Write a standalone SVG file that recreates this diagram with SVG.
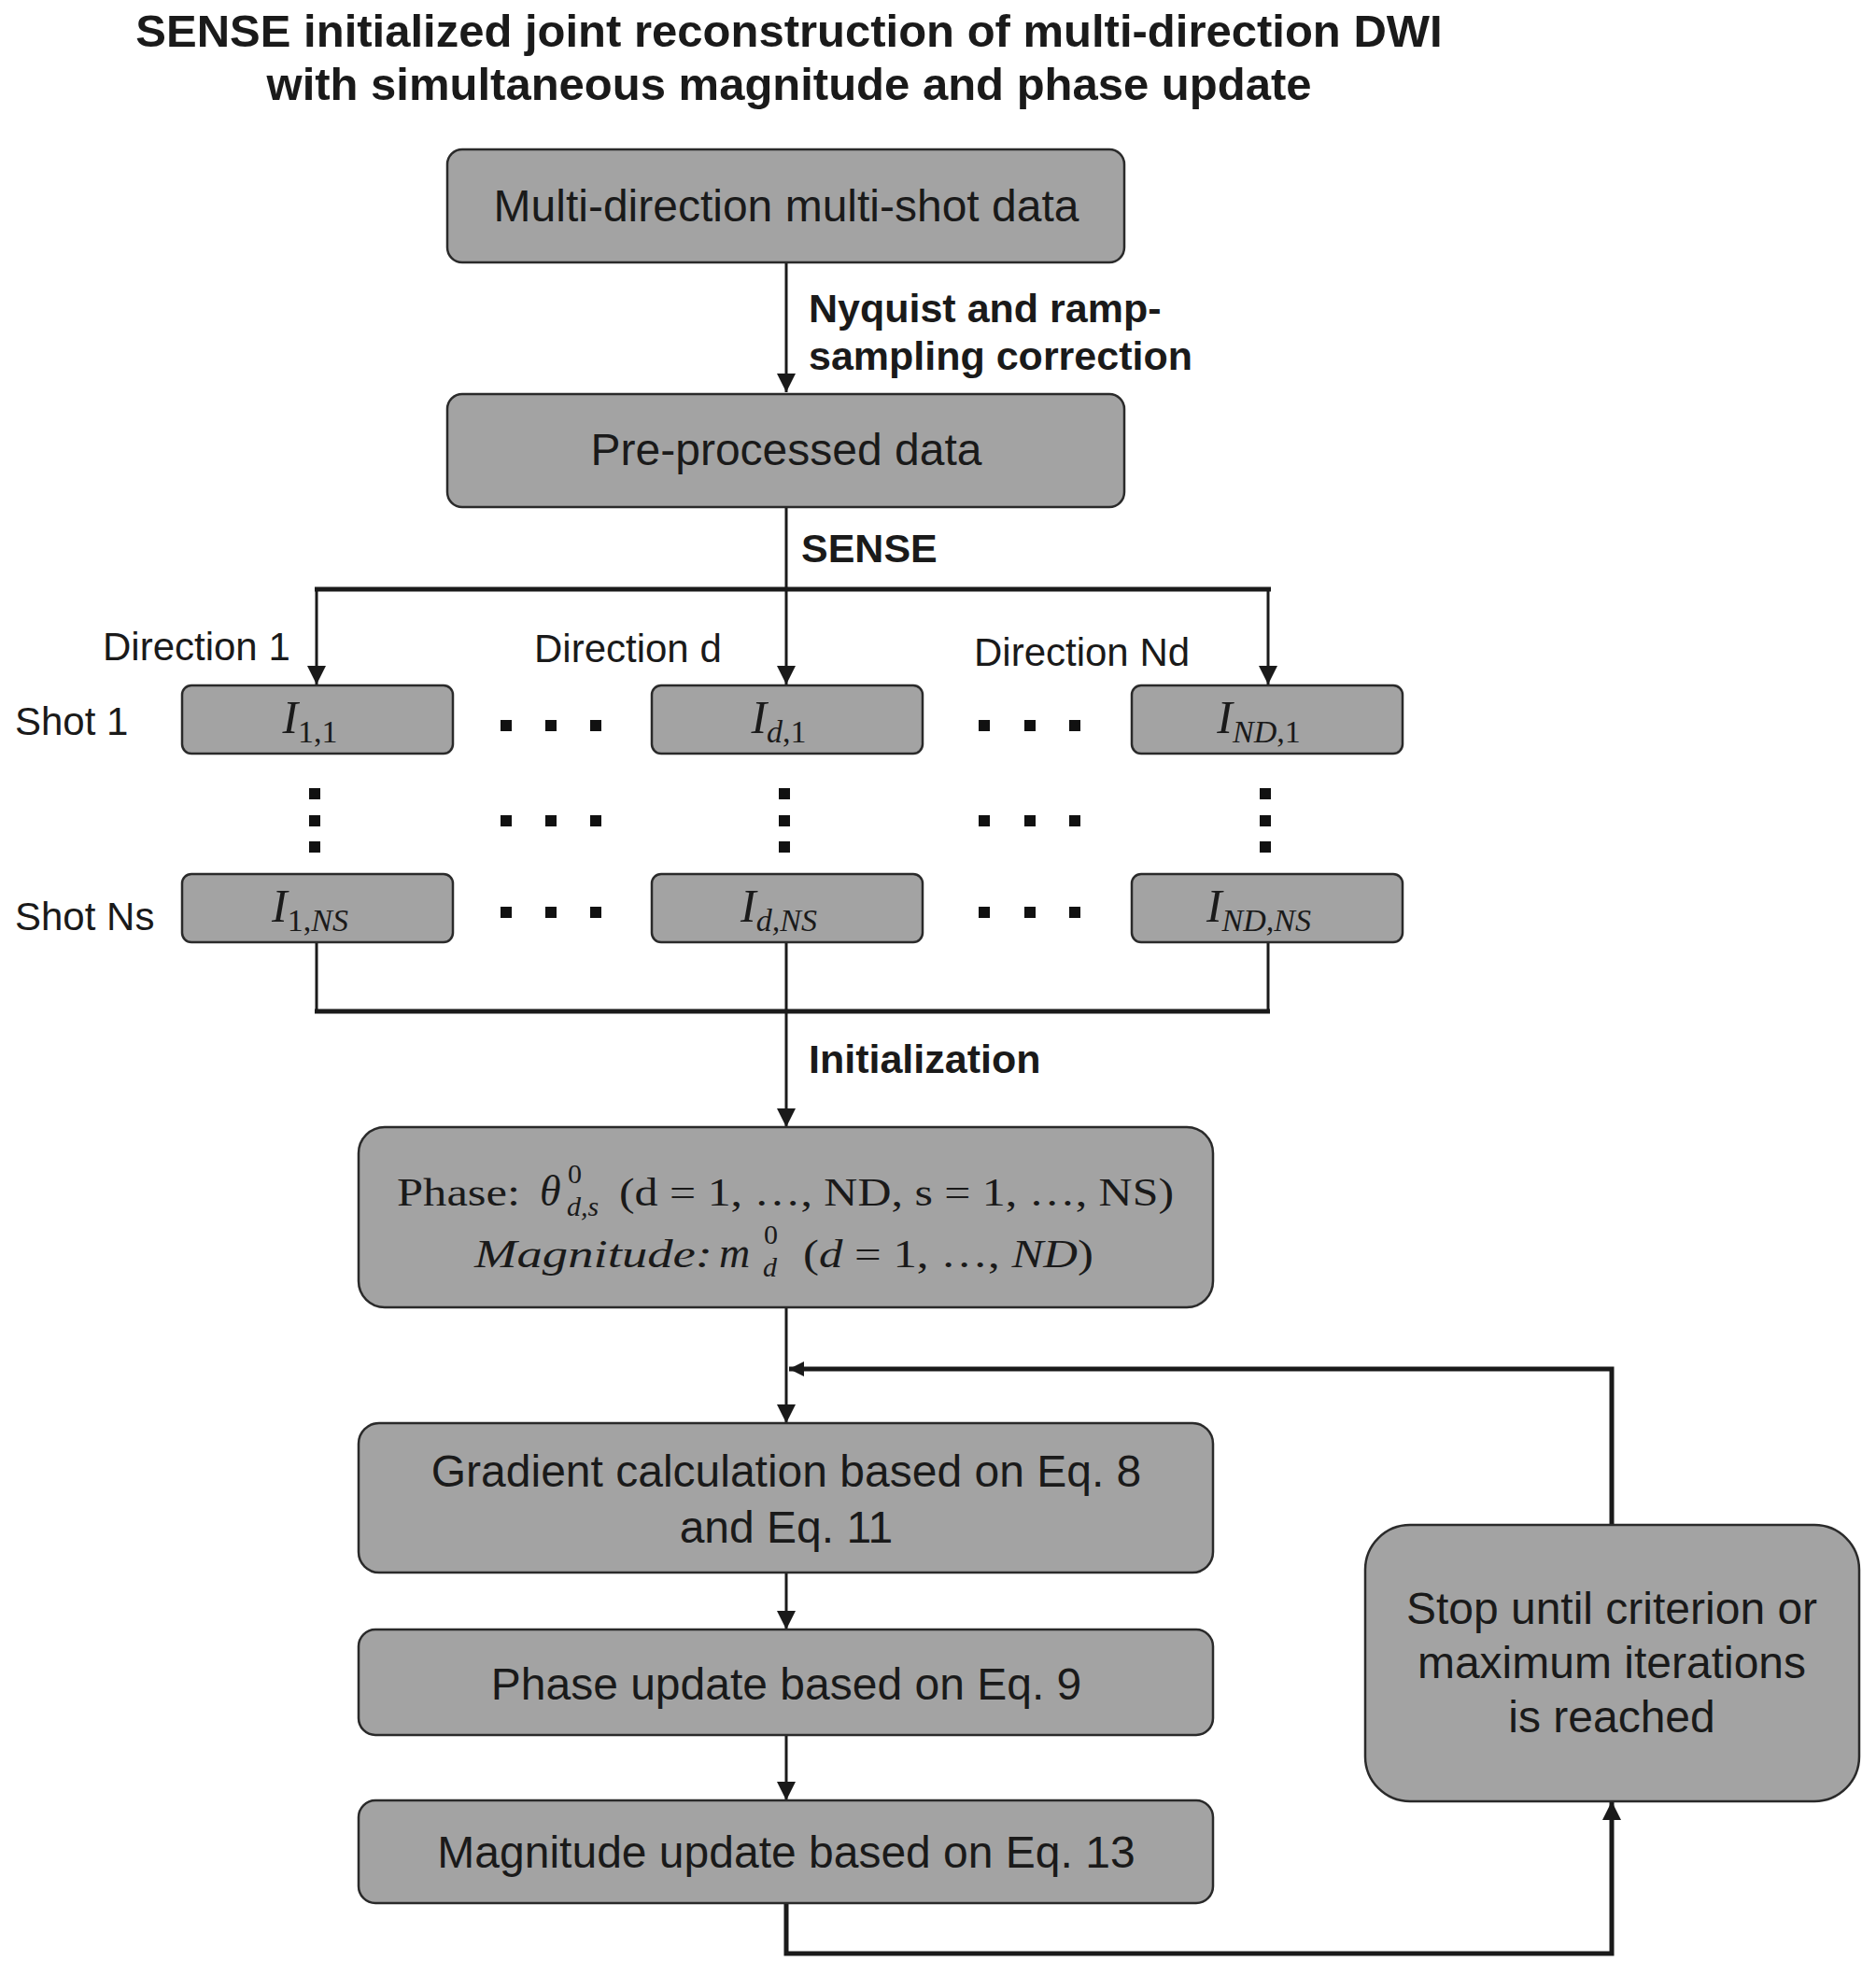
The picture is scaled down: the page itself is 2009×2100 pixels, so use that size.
<svg xmlns="http://www.w3.org/2000/svg" width="2009" height="2100" viewBox="0 0 2009 2100">
<defs>
<style>
.box{fill:#a3a3a3;stroke:#2a2a2a;stroke-width:2.5}
.t{font-family:"Liberation Sans",Arial,sans-serif;fill:#1a1a1a}
.bt{font-size:48px;text-anchor:middle}
.lb{font-size:43px;font-weight:bold}
.lr{font-size:42px}
.m{font-family:"Liberation Serif","Times New Roman",serif;fill:#1a1a1a}
.ln{fill:none;stroke:#1a1a1a;stroke-width:3}
.th{fill:none;stroke:#1a1a1a;stroke-width:5}
.dot{fill:#111}
</style>
<marker id="ah" viewBox="0 0 20 20" refX="20" refY="10" markerWidth="20" markerHeight="21" markerUnits="userSpaceOnUse" orient="auto">
<path d="M0,0 L20,10 L0,20 z" fill="#1a1a1a"/>
</marker>
<marker id="ahs" viewBox="0 0 20 20" refX="20" refY="10" markerWidth="17" markerHeight="16" markerUnits="userSpaceOnUse" orient="auto">
<path d="M0,0 L20,10 L0,20 z" fill="#1a1a1a"/>
</marker>
</defs>
<rect width="2009" height="2100" fill="#ffffff"/>

<g id="title" class="t" font-weight="bold" font-size="49" text-anchor="middle">
<text x="845" y="50">SENSE initialized joint reconstruction of multi-direction DWI</text>
<text x="845" y="107">with simultaneous magnitude and phase update</text>
</g>

<g id="connectors">
<path class="ln" d="M842,281 V420" marker-end="url(#ah)"/>
<path class="ln" d="M842,543 V733" marker-end="url(#ah)"/>
<path class="th" d="M337,631 H1361"/>
<path class="ln" d="M339,631 V733" marker-end="url(#ah)"/>
<path class="ln" d="M1358,631 V733" marker-end="url(#ah)"/>
<path class="ln" d="M339,1009 V1083"/>
<path class="ln" d="M1358,1009 V1083"/>
<path class="th" d="M337,1083 H1360"/>
<path class="ln" d="M842,1009 V1207" marker-end="url(#ah)"/>
<path class="ln" d="M842,1400 V1524" marker-end="url(#ah)"/>
<path class="th" d="M1726,1633 V1466 H845" marker-end="url(#ahs)"/>
<path class="ln" d="M842,1684 V1745" marker-end="url(#ah)"/>
<path class="ln" d="M842,1858 V1928" marker-end="url(#ah)"/>
<path class="th" d="M842,2037 V2092 H1726 V1929" marker-end="url(#ah)"/>
</g>

<g id="labels" class="t">
<text class="lb" x="866" y="345">Nyquist and ramp-</text>
<text class="lb" x="866" y="396">sampling correction</text>
<text class="lb" x="858" y="602">SENSE</text>
<text class="lb" x="866" y="1149">Initialization</text>
<text class="lr" x="110" y="707">Direction 1</text>
<text class="lr" x="572" y="709">Direction d</text>
<text class="lr" x="1043" y="713">Direction Nd</text>
<text class="lr" x="16" y="787">Shot 1</text>
<text class="lr" x="16" y="996">Shot Ns</text>
</g>

<g id="dots">
<rect class="dot" x="536" y="771" width="12" height="12"/>
<rect class="dot" x="584" y="771" width="12" height="12"/>
<rect class="dot" x="632" y="771" width="12" height="12"/>
<rect class="dot" x="1048" y="771" width="12" height="12"/>
<rect class="dot" x="1097" y="771" width="12" height="12"/>
<rect class="dot" x="1145" y="771" width="12" height="12"/>
<rect class="dot" x="536" y="873" width="12" height="12"/>
<rect class="dot" x="584" y="873" width="12" height="12"/>
<rect class="dot" x="632" y="873" width="12" height="12"/>
<rect class="dot" x="1048" y="873" width="12" height="12"/>
<rect class="dot" x="1097" y="873" width="12" height="12"/>
<rect class="dot" x="1145" y="873" width="12" height="12"/>
<rect class="dot" x="536" y="971" width="12" height="12"/>
<rect class="dot" x="584" y="971" width="12" height="12"/>
<rect class="dot" x="632" y="971" width="12" height="12"/>
<rect class="dot" x="1048" y="971" width="12" height="12"/>
<rect class="dot" x="1097" y="971" width="12" height="12"/>
<rect class="dot" x="1145" y="971" width="12" height="12"/>
<rect class="dot" x="331" y="844" width="12" height="12"/>
<rect class="dot" x="331" y="873" width="12" height="12"/>
<rect class="dot" x="331" y="901" width="12" height="12"/>
<rect class="dot" x="834" y="844" width="12" height="12"/>
<rect class="dot" x="834" y="873" width="12" height="12"/>
<rect class="dot" x="834" y="901" width="12" height="12"/>
<rect class="dot" x="1349" y="844" width="12" height="12"/>
<rect class="dot" x="1349" y="873" width="12" height="12"/>
<rect class="dot" x="1349" y="901" width="12" height="12"/>
</g>

<g id="n_multi">
<rect class="box" x="479" y="160" width="725" height="121" rx="16"/>
<text class="t bt" x="842" y="237">Multi-direction multi-shot data</text>
</g>
<g id="n_pre">
<rect class="box" x="479" y="422" width="725" height="121" rx="16"/>
<text class="t bt" x="842" y="498">Pre-processed data</text>
</g>

<g id="n_I11">
<rect class="box" x="195" y="734" width="290" height="73" rx="10"/>
<text class="m" x="332" y="785" font-size="50" text-anchor="middle"><tspan font-style="italic">I</tspan><tspan font-size="34" dy="10">1,1</tspan></text>
</g>
<g id="n_Id1">
<rect class="box" x="698" y="734" width="290" height="73" rx="10"/>
<text class="m" x="834" y="785" font-size="50" text-anchor="middle"><tspan font-style="italic">I</tspan><tspan font-size="34" dy="10"><tspan font-style="italic">d</tspan>,1</tspan></text>
</g>
<g id="n_IND1">
<rect class="box" x="1212" y="734" width="290" height="73" rx="10"/>
<text class="m" x="1348" y="785" font-size="50" text-anchor="middle"><tspan font-style="italic">I</tspan><tspan font-size="34" dy="10"><tspan font-style="italic">ND</tspan>,1</tspan></text>
</g>
<g id="n_I1NS">
<rect class="box" x="195" y="936" width="290" height="73" rx="10"/>
<text class="m" x="332" y="987" font-size="50" text-anchor="middle"><tspan font-style="italic">I</tspan><tspan font-size="34" dy="10">1,<tspan font-style="italic">NS</tspan></tspan></text>
</g>
<g id="n_IdNS">
<rect class="box" x="698" y="936" width="290" height="73" rx="10"/>
<text class="m" x="834" y="987" font-size="50" text-anchor="middle" font-style="italic"><tspan>I</tspan><tspan font-size="34" dy="10">d,NS</tspan></text>
</g>
<g id="n_INDNS">
<rect class="box" x="1212" y="936" width="290" height="73" rx="10"/>
<text class="m" x="1348" y="987" font-size="50" text-anchor="middle" font-style="italic"><tspan>I</tspan><tspan font-size="34" dy="10">ND,NS</tspan></text>
</g>

<g id="n_init">
<rect class="box" x="384" y="1207" width="915" height="193" rx="28"/>
<g class="m" font-size="42">
<text x="425" y="1291" textLength="132" lengthAdjust="spacingAndGlyphs">Phase:</text>
<text x="578" y="1291"><tspan font-style="italic" font-size="46">θ</tspan><tspan x="608" y="1267" font-size="30">0</tspan><tspan x="607" y="1302" font-size="30" font-style="italic">d,s</tspan></text>
<text x="663" y="1291" textLength="594" lengthAdjust="spacingAndGlyphs">(d = 1, …, ND,  s = 1, …, NS)</text>
<text x="508" y="1357" font-style="italic" textLength="255" lengthAdjust="spacingAndGlyphs">Magnitude:</text>
<text x="770" y="1357"><tspan font-style="italic" font-size="46">m</tspan><tspan x="818" y="1332" font-size="30">0</tspan><tspan x="817" y="1367" font-size="30" font-style="italic">d</tspan></text>
<text x="860" y="1357" textLength="311" lengthAdjust="spacingAndGlyphs">(<tspan font-style="italic">d</tspan> = 1, …, <tspan font-style="italic">ND</tspan>)</text>
</g>
</g>

<g id="n_grad">
<rect class="box" x="384" y="1524" width="915" height="160" rx="22"/>
<text class="t bt" x="842" y="1592">Gradient calculation based on Eq. 8</text>
<text class="t bt" x="842" y="1652">and Eq. 11</text>
</g>
<g id="n_phase">
<rect class="box" x="384" y="1745" width="915" height="113" rx="18"/>
<text class="t bt" x="842" y="1820">Phase update based on Eq. 9</text>
</g>
<g id="n_mag">
<rect class="box" x="384" y="1928" width="915" height="110" rx="18"/>
<text class="t bt" x="842" y="2000">Magnitude update based on Eq. 13</text>
</g>
<g id="n_stop">
<rect class="box" x="1462" y="1633" width="529" height="296" rx="48"/>
<text class="t bt" x="1726" y="1739" font-size="47">Stop until criterion or</text>
<text class="t bt" x="1726" y="1797" font-size="47">maximum iterations</text>
<text class="t bt" x="1726" y="1855" font-size="47">is reached</text>
</g>
</svg>
